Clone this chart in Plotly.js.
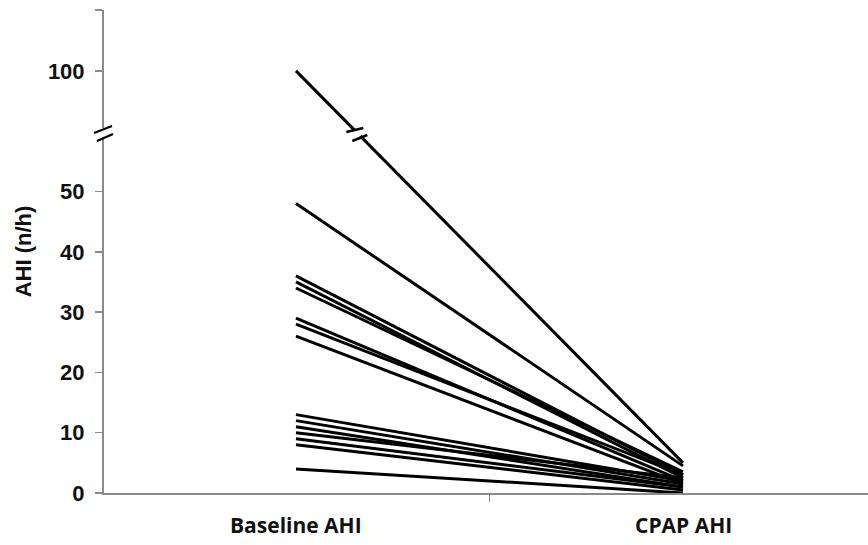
<!DOCTYPE html>
<html>
<head>
<meta charset="utf-8">
<script src="https://cdn.plot.ly/plotly-3.0.1.min.js"></script>
<style>html,body{margin:0;padding:0;background:#fff;}#chart{width:868px;height:545px;}</style>
</head>
<body>
<div id="chart"></div>
<script>
// Data (AHI, events/hour)
var categories = ['Baseline AHI', 'CPAP AHI'];
var baselineAHI = [100, 48, 36, 35, 34, 29, 28, 26, 13, 12, 11, 10, 9, 8, 4];
var cpapAHI     = [5,   4.5, 3, 2.5, 3.5, 2, 3, 1.5, 2, 1.5, 1, 2.5, 1, 0.5, 0];
var yTickLabels = [0, 10, 20, 30, 40, 50, 100];

// Broken y axis: values above the break are shifted down by BREAK_SHIFT
var BREAK_LOW = 55, BREAK_SHIFT = 30, BREAK_POS = 59.7, Y_TOP = 80.1;
function mapY(v) { return v > BREAK_LOW ? v - BREAK_SHIFT : v; }

var traces = baselineAHI.map(function (b, i) {
  return {
    x: [0, 1],
    y: [mapY(b), mapY(cpapAHI[i])],
    mode: 'lines',
    type: 'scatter',
    line: {color: '#000', width: 3},
    hoverinfo: 'skip',
    showlegend: false
  };
});

var axisGrey = '#8a8a8a';
var tickVals = yTickLabels.map(mapY).concat([Y_TOP]);
var tickText = yTickLabels.map(String).concat(['']);

// position of the break mark on the highest line
var iMax = baselineAHI.indexOf(Math.max.apply(null, baselineAHI));
var yb0 = mapY(baselineAHI[iMax]), yb1 = mapY(cpapAHI[iMax]);
var xBreak = (yb0 - BREAK_POS) / (yb0 - yb1);

function pxShape(xref, xa, yref, ya, x0, y0, x1, y1, color, width) {
  return {type: 'line', xref: xref, yref: yref, xsizemode: 'pixel', ysizemode: 'pixel',
    xanchor: xa, yanchor: ya, x0: x0, y0: y0, x1: x1, y1: y1,
    line: {color: color, width: width}, layer: 'above'};
}

var shapes = [
  // axis break
  pxShape('paper', 0, 'y', BREAK_POS, 0, -5, 0, 5, '#fff', 4),
  pxShape('paper', 0, 'y', BREAK_POS, -10, 0, 8, 7, '#000', 2),
  pxShape('paper', 0, 'y', BREAK_POS, -7, -8, 9, -1, '#000', 2),
  // line break
  pxShape('x', xBreak, 'y', BREAK_POS, -3, 3, 3, -3, '#fff', 5),
  pxShape('x', xBreak, 'y', BREAK_POS, -11, 1, 6, 5, '#000', 2.5),
  pxShape('x', xBreak, 'y', BREAK_POS, -5, -8, 10, -2, '#000', 2.5)
];

var annotations = categories.map(function (c, i) {
  return {
    x: i, xref: 'x', y: -0.066, yref: 'paper', text: c, showarrow: false,
    xanchor: 'center', yanchor: 'middle',
    font: {family: 'Open Sans, sans-serif', size: 21, color: '#111', weight: 'bold'}
  };
});

var layout = {
  width: 868, height: 545,
  margin: {l: 104, r: 0, t: 10, b: 52, pad: 0},
  paper_bgcolor: '#fff', plot_bgcolor: '#fff',
  showlegend: false,
  hovermode: false,
  xaxis: {
    range: [-0.496, 1.478],
    showgrid: false, zeroline: false,
    showline: true, linecolor: axisGrey, linewidth: 2,
    tickvals: [0.5], ticks: 'outside', ticklen: 7, tickwidth: 1.5, tickcolor: axisGrey,
    showticklabels: false, fixedrange: true
  },
  yaxis: {
    range: [0, Y_TOP],
    showgrid: false, zeroline: false,
    showline: true, linecolor: axisGrey, linewidth: 2,
    tickvals: tickVals, ticktext: tickText,
    ticks: 'outside', ticklen: 7, tickwidth: 1.5, tickcolor: axisGrey,
    ticklabelstandoff: 6,
    tickfont: {family: 'Liberation Sans, Arial, sans-serif', size: 22, color: '#111', weight: 'bold'},
    title: {text: 'AHI (n/h)', standoff: 10,
      font: {family: 'Liberation Sans, Arial, sans-serif', size: 22, color: '#111', weight: 'bold'}},
    fixedrange: true
  },
  shapes: shapes,
  annotations: annotations
};

Plotly.newPlot('chart', traces, layout, {displayModeBar: false, staticPlot: true});
</script>
</body>
</html>
